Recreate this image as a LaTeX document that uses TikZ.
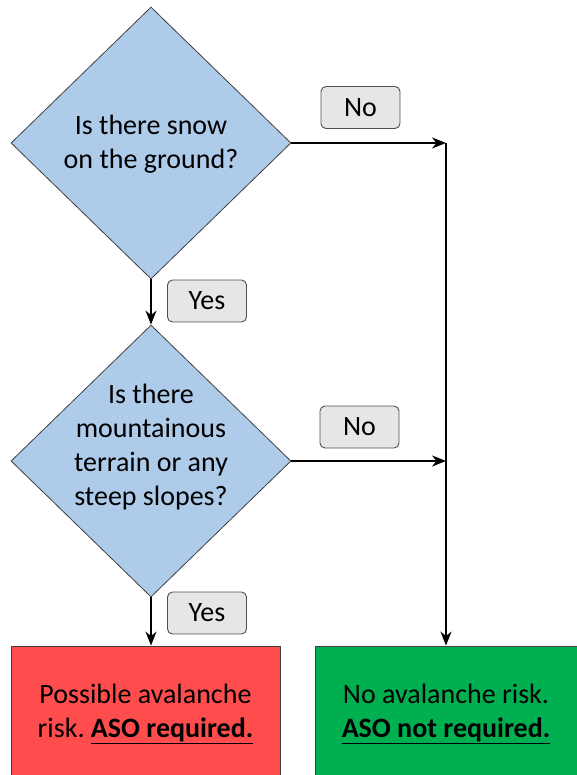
\documentclass[tikz,border=0pt]{standalone}
\usepackage{fontspec}
\setmainfont{Carlito}
\usetikzlibrary{shapes.geometric,arrows.meta}

\definecolor{qblue}{HTML}{AECBEA}
\definecolor{riskred}{HTML}{FF4D4D}
\definecolor{safegreen}{HTML}{00B050}
\definecolor{tagfill}{HTML}{E6E6E6}
\definecolor{tagline}{HTML}{505050}
\definecolor{edgegray}{HTML}{404040}

\tikzset{
  question/.style={diamond, draw=edgegray, line width=0.8pt, fill=qblue,
    minimum width=280pt, minimum height=272pt, inner sep=0pt},
  qtext/.style={align=center, font=\fontsize{28}{34}\selectfont, inner sep=0pt},
  outcome/.style={rectangle, draw=edgegray, line width=0.8pt,
    minimum height=132pt, align=center, inner sep=0pt, text depth=0pt,
    font=\fontsize{28}{35}\selectfont},
  tag/.style={rectangle, rounded corners=5pt, draw=tagline, line width=0.9pt,
    fill=tagfill, minimum width=79pt, minimum height=42pt, inner sep=0pt,
    font=\fontsize{28}{30}\selectfont},
  flow/.style={line width=1.8pt, -{Stealth[length=14pt,width=11pt,inset=4.5pt]}}
}

\begin{document}
\frenchspacing
\begin{tikzpicture}[x=1pt,y=-1pt]
  \useasboundingbox (0,0) rectangle (576,775);

  % decision diamonds
  \node[question] (d1) at (151,143) {};
  \node[qtext] (t1) at (151,144) {Is there snow\\on the ground?};
  \node[question] (d2) at (151,461) {};
  \node[qtext] (t2) at (151,447.5) {Is there\\mountainous\\terrain or any\\steep slopes?};

  % outcome boxes
  \node[outcome, fill=riskred, minimum width=269pt] (red) at (145.5,712) {};
  \node[qtext] (redtext) at (145.5,713.5)
    {Possible avalanche\\risk. \textbf{\underline{ASO required.}}};
  \node[outcome, fill=safegreen, minimum width=262pt] (green) at (446,712) {};
  \node[qtext] (greentext) at (446,713.5)
    {No avalanche risk.\\\textbf{\underline{ASO not required.}}};

  % junction points on the right-hand trunk
  \coordinate (j1) at (green.north |- d1.east);
  \coordinate (j2) at (green.north |- d2.east);

  % connectors
  \draw[flow] (d1.south) -- (d2.north);
  \draw[flow] (d2.south) -- (d2.south |- red.north);
  \draw[flow] (d1.east) -- (j1);
  \draw[flow] (d2.east) -- (j2);
  \draw[flow] (j1) -- (green.north);

  % answer tags
  \node[tag] (yes1) at (207,301) {Yes};
  \node[tag] (yes2) at (207,613) {Yes};
  \node[tag] (no1) at (360.5,107.5) {No};
  \node[tag] (no2) at (359.5,427) {No};
\end{tikzpicture}
\end{document}
